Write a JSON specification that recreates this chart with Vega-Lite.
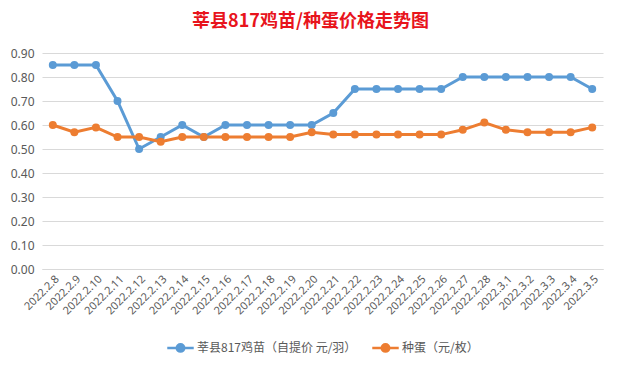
{
  "$schema": "https://vega.github.io/schema/vega-lite/v6.json",
  "width": 561,
  "height": 216,
  "autosize": {"type": "none"},
  "padding": {"left": 42, "top": 53, "right": 18, "bottom": 100},
  "background": "white",
  "title": {
    "text": "莘县817鸡苗/种蛋价格走势图",
    "font": "Noto Sans CJK SC",
    "fontSize": 18,
    "fontWeight": "bold",
    "color": "#E8141C",
    "anchor": "middle",
    "dx": -12,
    "offset": 16
  },
  "config": {
    "view": {"stroke": null},
    "font": "Noto Sans CJK SC",
    "legend": {"layout": {"bottom": {"anchor": "middle"}}}
  },
  "data": {
    "values": [
      {"date": "2022.2.8", "chick": 0.85, "egg": 0.60},
      {"date": "2022.2.9", "chick": 0.85, "egg": 0.57},
      {"date": "2022.2.10", "chick": 0.85, "egg": 0.59},
      {"date": "2022.2.11", "chick": 0.70, "egg": 0.55},
      {"date": "2022.2.12", "chick": 0.50, "egg": 0.55},
      {"date": "2022.2.13", "chick": 0.55, "egg": 0.53},
      {"date": "2022.2.14", "chick": 0.60, "egg": 0.55},
      {"date": "2022.2.15", "chick": 0.55, "egg": 0.55},
      {"date": "2022.2.16", "chick": 0.60, "egg": 0.55},
      {"date": "2022.2.17", "chick": 0.60, "egg": 0.55},
      {"date": "2022.2.18", "chick": 0.60, "egg": 0.55},
      {"date": "2022.2.19", "chick": 0.60, "egg": 0.55},
      {"date": "2022.2.20", "chick": 0.60, "egg": 0.57},
      {"date": "2022.2.21", "chick": 0.65, "egg": 0.56},
      {"date": "2022.2.22", "chick": 0.75, "egg": 0.56},
      {"date": "2022.2.23", "chick": 0.75, "egg": 0.56},
      {"date": "2022.2.24", "chick": 0.75, "egg": 0.56},
      {"date": "2022.2.25", "chick": 0.75, "egg": 0.56},
      {"date": "2022.2.26", "chick": 0.75, "egg": 0.56},
      {"date": "2022.2.27", "chick": 0.80, "egg": 0.58},
      {"date": "2022.2.28", "chick": 0.80, "egg": 0.61},
      {"date": "2022.3.1", "chick": 0.80, "egg": 0.58},
      {"date": "2022.3.2", "chick": 0.80, "egg": 0.57},
      {"date": "2022.3.3", "chick": 0.80, "egg": 0.57},
      {"date": "2022.3.4", "chick": 0.80, "egg": 0.57},
      {"date": "2022.3.5", "chick": 0.75, "egg": 0.59}
    ]
  },
  "transform": [
    {"fold": ["chick", "egg"], "as": ["key", "value"]},
    {"lookup": "key", "from": {"data": {"values": [
      {"key": "chick", "series": "莘县817鸡苗（自提价 元/羽）"},
      {"key": "egg", "series": "种蛋（元/枚）"}
    ]}, "key": "key", "fields": ["series"]}}
  ],
  "encoding": {
    "x": {
      "field": "date",
      "type": "ordinal",
      "sort": null,
      "scale": {"paddingInner": 0, "paddingOuter": 0.5},
      "axis": {
        "title": null,
        "labelAngle": -45,
        "labelFont": "Noto Sans",
        "labelFontSize": 11,
        "labelColor": "#595959",
        "ticks": false,
        "domainColor": "#d9d9d9",
        "labelPadding": 4
      }
    },
    "y": {
      "field": "value",
      "type": "quantitative",
      "scale": {"domain": [0, 0.9], "nice": false},
      "axis": {
        "title": null,
        "format": ".2f",
        "values": [0, 0.1, 0.2, 0.3, 0.4, 0.5, 0.6, 0.7, 0.8, 0.9],
        "labelFont": "Noto Sans",
        "labelFontSize": 12,
        "labelColor": "#595959",
        "ticks": false,
        "domain": false,
        "gridColor": "#d9d9d9",
        "labelPadding": 8
      }
    },
    "color": {
      "field": "series",
      "type": "nominal",
      "sort": ["莘县817鸡苗（自提价 元/羽）", "种蛋（元/枚）"],
      "scale": {"range": ["#5B9BD5", "#ED7D31"]},
      "legend": {
        "title": null,
        "orient": "bottom",
        "direction": "horizontal",
        "offset": 16,
        "labelFont": "Noto Sans CJK SC",
        "labelFontSize": 12,
        "labelColor": "#595959",
        "symbolType": "M-1,0L1,0M-0.28,0A0.28,0.28 0 1,0 0.28,0A0.28,0.28 0 1,0 -0.28,0Z",
        "symbolSize": 700,
        "symbolStrokeWidth": 2.5,
        "columnPadding": 10,
        "labelOffset": 2
      }
    }
  },
  "layer": [
    {"mark": {"type": "line", "strokeWidth": 3}},
    {"mark": {"type": "point", "filled": true, "size": 64, "opacity": 1}}
  ]
}
